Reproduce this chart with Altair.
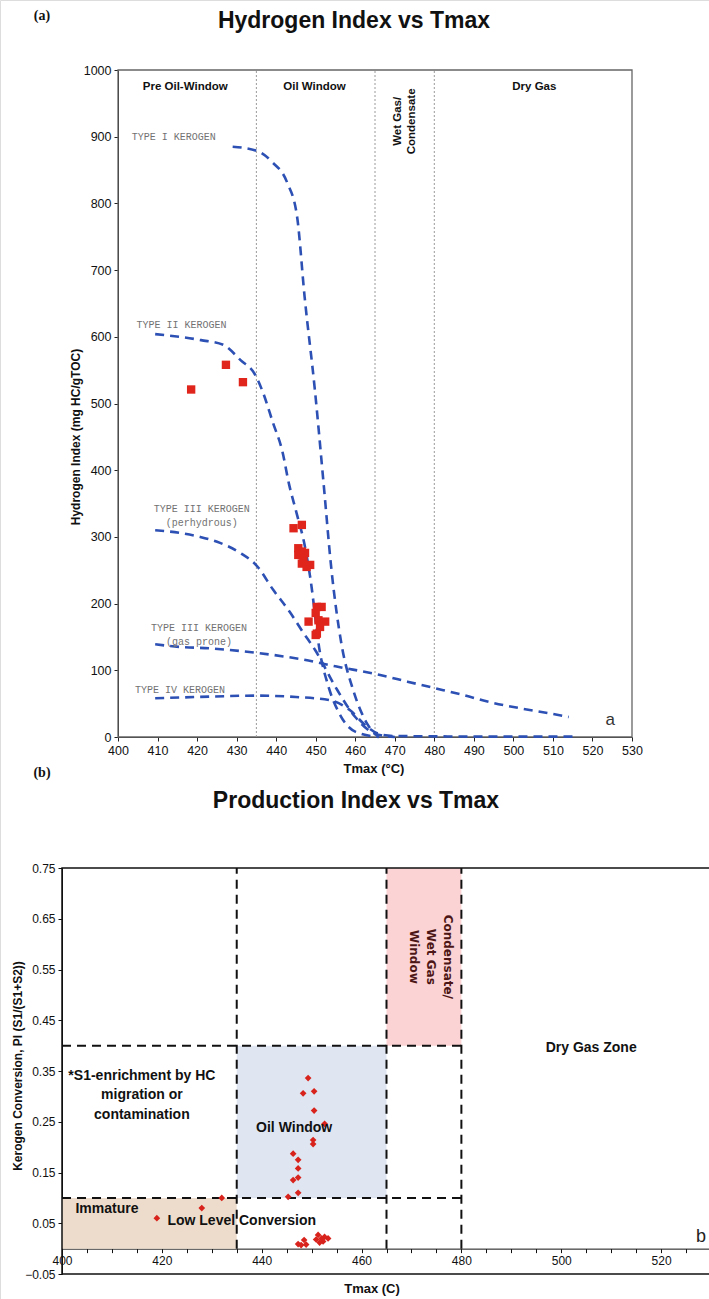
import altair as alt
import pandas as pd

NARROW = "Liberation Sans Narrow, Arial Narrow, Liberation Sans, Arial"
SANS = "Liberation Sans, Arial"

# ---------------- (a) Hydrogen Index vs Tmax ----------------
zone_edges_a = [435, 465, 480]

sample_tmax = [418.5, 427.3, 431.6, 444.4, 446.5, 445.6, 446.5, 445.6, 446.9, 446.5, 447.7, 448.6, 447.3,
               450.3, 451.5, 450.0, 448.2, 450.7, 452.4, 450.3, 450.0, 451.1]
sample_hi = [521, 558, 532, 313, 318, 283, 278, 273, 268, 260, 255, 258, 276,
             195, 195, 186, 173, 175, 173, 155, 153, 165]

type1_t = [429, 435, 439, 442.8, 445.3, 447.2, 449.8, 452, 454, 456.5, 459.5, 463, 466]
type1_hi = [885, 879, 862, 831, 780, 660, 520, 380, 250, 140, 70, 20, 0]
type2_t = [409.4, 421, 426.6, 431, 434.7, 436.7, 439.2, 441.5, 443.3, 445.2, 447.3, 448.6, 451.1, 453, 456, 460, 466]
type2_hi = [604, 595, 588, 565, 543, 516, 471, 430, 378, 335, 285, 240, 126, 80, 35, 8, 0]
type3p_t = [409.4, 415.7, 420.8, 425.8, 430.9, 435.2, 439.2, 443.5, 446.8, 449.9, 455, 460, 465, 470]
type3p_hi = [310, 306, 300, 291, 276, 256, 221, 187, 157, 130, 75, 30, 5, 0]
type3g_t = [409.4, 415.7, 423, 435.2, 442.8, 446, 455, 466.3, 473.2, 480.3, 487.3, 494.2, 501.8, 508.6, 514]
type3g_hi = [139, 135, 133, 126, 120, 117, 106, 93, 83, 73, 63, 52, 43, 36, 30]
type4_t = [409.4, 420, 435, 445, 453.7, 458.7, 462.5, 466.3, 470, 480, 495, 515]
type4_hi = [58, 60, 62, 60, 55, 40, 18, 4, 1.5, 1, 0.5, 0.5]

ker_left_labels = ["TYPE I KEROGEN", "TYPE II KEROGEN", "TYPE IV KEROGEN"]
ker_left_t = [403.5, 404.7, 404.3]
ker_left_hi = [900, 617, 71]
ker_mid_labels = [["TYPE III KEROGEN", "(perhydrous)"], ["TYPE III KEROGEN", "(gas prone)"]]
ker_mid_t = [421.2, 420.5]
ker_mid_hi = [342, 164]

zone_a_labels = ["Pre Oil-Window", "Oil Window", "Dry Gas"]
zone_a_t = [417, 449.7, 505.3]
zone_a_hi = [975, 975, 975]

# ---------------- (b) Production Index vs Tmax ----------------
zone_edges_b = [435, 465, 480]
hlines_b = [0.4, 0.1]

box_x1 = [400, 435, 465]
box_x2 = [435, 465, 480]
box_y1 = [0, 0.1, 0.4]
box_y2 = [0.1, 0.4, 0.75]
box_color = ["#eddccb", "#dfe6f1", "#fbd3d4"]

pi_tmax = [419, 428, 432, 445.3, 447.3, 446.3, 447.3, 447.3, 447.3, 446.3, 449.3, 448.3, 450.5, 450.5,
           452.6, 450.3, 450.3, 447.3, 448.5, 447.9, 448.9, 451.3, 452, 452.6, 453.3, 451.6, 450.9, 452.3]
pi_vals = [0.06, 0.08, 0.10, 0.102, 0.11, 0.135, 0.14, 0.158, 0.175, 0.187, 0.336, 0.306, 0.31, 0.272,
           0.246, 0.214, 0.206, 0.009, 0.017, 0.007, 0.008, 0.027, 0.02, 0.023, 0.02, 0.012, 0.018, 0.014]

text_b_labels = [["*S1-enrichment by HC", "migration or", "contamination"], ["Oil Window"], ["Dry Gas Zone"],
                 ["Immature"], ["Low Level Conversion"]]
text_b_t = [416, 446.5, 506, 409, 436]
text_b_v = [0.341, 0.237, 0.396, 0.078, 0.055]

# canvas and panel placement (pixels)
W, H = 709, 1299
A_X, A_Y = [118, 632], [737, 70]
B_X, B_Y = [62, 711], [1274, 868]
B_ZERO = 1274 - (0.05 / 0.8) * (1274 - 868)

# ======================= chart (a) =======================
xa = alt.X("t:Q", scale=alt.Scale(domain=[400, 530], range=A_X, nice=False, zero=False),
           axis=alt.Axis(orient="bottom", offset=-(H - A_Y[0]), values=list(range(400, 531, 10)), title=None,
                         grid=False, labelFlush=False, tickSize=4, labelFontSize=12.5, labelFont=NARROW,
                         labelColor="#111", domainColor="#222", tickColor="#222", labelPadding=3))
ya = alt.Y("v:Q", scale=alt.Scale(domain=[0, 1000], range=A_Y, nice=False, zero=False),
           axis=alt.Axis(orient="left", offset=-A_X[0], values=list(range(0, 1001, 100)), format="d",
                         title=None, grid=False, tickSize=4, labelFontSize=12.5, labelFont=NARROW,
                         labelColor="#111", domainColor="#222", tickColor="#222", labelPadding=3))

frame_a = alt.Chart(pd.DataFrame({"t": [400], "t2": [530], "v": [0], "v2": [1000]})).mark_rect(
    fillOpacity=0, stroke="#666666", strokeWidth=1.3).encode(x=xa, x2="t2:Q", y=ya, y2="v2:Q")

rules_a = alt.Chart(pd.DataFrame({"t": zone_edges_a, "v": [0] * 3, "v2": [1000] * 3})).mark_rule(
    color="#9a9a9a", strokeDash=[2, 2], strokeWidth=1).encode(x=xa, y=ya, y2="v2:Q")

rows = []
for name, ts, vs in [("I", type1_t, type1_hi), ("II", type2_t, type2_hi), ("IIIp", type3p_t, type3p_hi),
                     ("IIIg", type3g_t, type3g_hi), ("IV", type4_t, type4_hi)]:
    for i, (t, v) in enumerate(zip(ts, vs)):
        rows.append({"t": t, "v": v, "curve": name, "o": i})
curves = alt.Chart(pd.DataFrame(rows)).mark_line(
    color="#2d50b4", strokeDash=[9, 6], strokeWidth=2.6, interpolate="monotone").encode(
    x=xa, y=ya, detail="curve:N", order="o:Q")

samples_a = alt.Chart(pd.DataFrame({"t": sample_tmax, "v": sample_hi})).mark_square(
    size=70, color="#e0261c", opacity=1).encode(x=xa, y=ya)

ker_left = alt.Chart(pd.DataFrame({"t": ker_left_t, "v": ker_left_hi, "lab": ker_left_labels})).mark_text(
    align="left", baseline="middle", font="Liberation Mono", fontSize=10, color="#727272").encode(
    x=xa, y=ya, text="lab:N")
ker_mid = alt.Chart(pd.DataFrame({"t": ker_mid_t, "v": ker_mid_hi,
                                  "lab": ["\n".join(l) for l in ker_mid_labels]})).mark_text(
    align="center", baseline="middle", font="Liberation Mono", fontSize=10, color="#727272",
    lineBreak="\n", lineHeight=14).encode(x=xa, y=ya, text="lab:N")

zone_a = alt.Chart(pd.DataFrame({"t": zone_a_t, "v": zone_a_hi, "lab": zone_a_labels})).mark_text(
    align="center", baseline="middle", font=SANS, fontWeight="bold", fontSize=11.5, color="#111").encode(
    x=xa, y=ya, text="lab:N")
wetgas = alt.Chart(pd.DataFrame({"t": [470.7], "v": [923]})).mark_text(
    angle=270, align="center", baseline="middle", font=SANS, fontWeight="bold", fontSize=11.5,
    color="#111", lineHeight=14).encode(x=xa, y=ya, text=alt.value(["Wet Gas/", "Condensate"]))
a_lab = alt.Chart(pd.DataFrame({"t": [524.5], "v": [25]})).mark_text(
    font=SANS, fontSize=17, color="#333").encode(x=xa, y=ya, text=alt.value("a"))

one = pd.DataFrame({"d": [0]})


def ptext(x, y, txt, **kw):
    return alt.Chart(one).mark_text(**kw).encode(x=alt.value(x), y=alt.value(y), text=alt.value(txt))


a_tag = ptext(42, 16, "(a)", font="Liberation Serif", fontWeight="bold", fontSize=14,
              align="center", baseline="middle", color="#111")
a_title = ptext(354, 21, "Hydrogen Index vs Tmax", font=SANS, fontWeight="bold", fontSize=23,
                align="center", baseline="middle", color="#111")
a_ytitle = ptext(76, 437, "Hydrogen Index (mg HC/gTOC)", font=SANS, fontWeight="bold", fontSize=12,
                 align="center", baseline="middle", angle=270, color="#111")
a_xtitle = ptext(374, 769, "Tmax (°C)", font=NARROW, fontWeight="bold", fontSize=13,
                 align="center", baseline="middle", color="#111")

layer_a = alt.layer(frame_a, rules_a, curves, samples_a, ker_left, ker_mid, zone_a, wetgas, a_lab,
                    a_tag, a_title, a_ytitle, a_xtitle)

# ======================= chart (b) =======================
xb = alt.X("t:Q", scale=alt.Scale(domain=[400, 530], range=B_X, nice=False, zero=False),
           axis=alt.Axis(orient="bottom", offset=-(H - B_ZERO), values=list(range(400, 531, 5)), title=None,
                         grid=False, labelFlush=False, labelExpr="datum.value % 20 == 0 ? datum.label : ''",
                         tickSize=4, labelFontSize=12, labelFont=NARROW, labelColor="#111",
                         domainColor="#111", tickColor="#111", labelPadding=3))
yb = alt.Y("v:Q", scale=alt.Scale(domain=[-0.05, 0.75], range=B_Y, nice=False, zero=False),
           axis=alt.Axis(orient="left", offset=-B_X[0],
                         values=[-0.05, 0.05, 0.15, 0.25, 0.35, 0.45, 0.55, 0.65, 0.75], format=".2f",
                         title=None, grid=False, tickSize=4, labelFontSize=12, labelFont=NARROW,
                         labelColor="#111", domainColor="#111", tickColor="#111", labelPadding=3))

boxes = alt.Chart(pd.DataFrame({"t": box_x1, "t2": box_x2, "v": box_y1, "v2": box_y2,
                                "col": box_color})).mark_rect(opacity=1).encode(
    x=xb, x2="t2:Q", y=yb, y2="v2:Q", color=alt.Color("col:N", scale=None))

frame_b = alt.Chart(pd.DataFrame({"t": [400], "t2": [530], "v": [-0.05], "v2": [0.75]})).mark_rect(
    fillOpacity=0, stroke="#111", strokeWidth=1.5).encode(x=xb, x2="t2:Q", y=yb, y2="v2:Q")

vrules = alt.Chart(pd.DataFrame({"t": zone_edges_b, "v": [0] * 3, "v2": [0.75] * 3})).mark_rule(
    color="#111", strokeDash=[9, 6], strokeWidth=2).encode(x=xb, y=yb, y2="v2:Q")
hrules = alt.Chart(pd.DataFrame({"v": hlines_b, "t": [400, 400], "t2": [480, 480]})).mark_rule(
    color="#111", strokeDash=[9, 6], strokeWidth=2).encode(x=xb, x2="t2:Q", y=yb)

pts_b = alt.Chart(pd.DataFrame({"t": pi_tmax, "v": pi_vals})).mark_point(
    shape="diamond", filled=True, size=45, color="#d8231c", opacity=1).encode(x=xb, y=yb)

texts_b = alt.Chart(pd.DataFrame({"t": text_b_t, "v": text_b_v,
                                  "lab": ["\n".join(l) for l in text_b_labels]})).mark_text(
    align="center", baseline="middle", font=NARROW, fontWeight="bold", fontSize=14, color="#111",
    lineBreak="\n", lineHeight=19.5).encode(x=xb, y=yb, text="lab:N")
cond = alt.Chart(pd.DataFrame({"t": [477.4], "v": [0.575]})).mark_text(
    angle=90, align="center", baseline="middle", font="DejaVu Sans", fontWeight="bold", fontSize=12,
    color="#4d1616", lineHeight=17).encode(x=xb, y=yb, text=alt.value(["Condensate/", "Wet Gas", "Window"]))
b_lab = alt.Chart(pd.DataFrame({"t": [528], "v": [0.023]})).mark_text(
    font=SANS, fontSize=18, color="#222").encode(x=xb, y=yb, text=alt.value("b"))

b_tag = ptext(42, 773, "(b)", font="Liberation Serif", fontWeight="bold", fontSize=14,
              align="center", baseline="middle", color="#111")
b_title = ptext(356, 801, "Production Index vs Tmax", font=SANS, fontWeight="bold", fontSize=23,
                align="center", baseline="middle", color="#111")
b_ytitle = ptext(18, 1066, "Kerogen Conversion, PI (S1/(S1+S2))", font=SANS, fontWeight="bold",
                 fontSize=12, align="center", baseline="middle", angle=270, color="#111")
b_xtitle = ptext(372, 1289, "Tmax (C)", font=NARROW, fontWeight="bold", fontSize=13,
                 align="center", baseline="middle", color="#111")

layer_b = alt.layer(boxes, frame_b, vrules, hrules, pts_b, texts_b, cond, b_lab,
                    b_tag, b_title, b_ytitle, b_xtitle)

chart = alt.layer(layer_a, layer_b).resolve_scale(x="independent", y="independent").resolve_axis(
    x="independent", y="independent").properties(
    width=W, height=H, autosize=alt.AutoSizeParams(type="none"), padding=0).configure_view(
    strokeWidth=0).configure(background="white")

chart.save("out.html", embed_options={"renderer": "svg", "actions": False})
